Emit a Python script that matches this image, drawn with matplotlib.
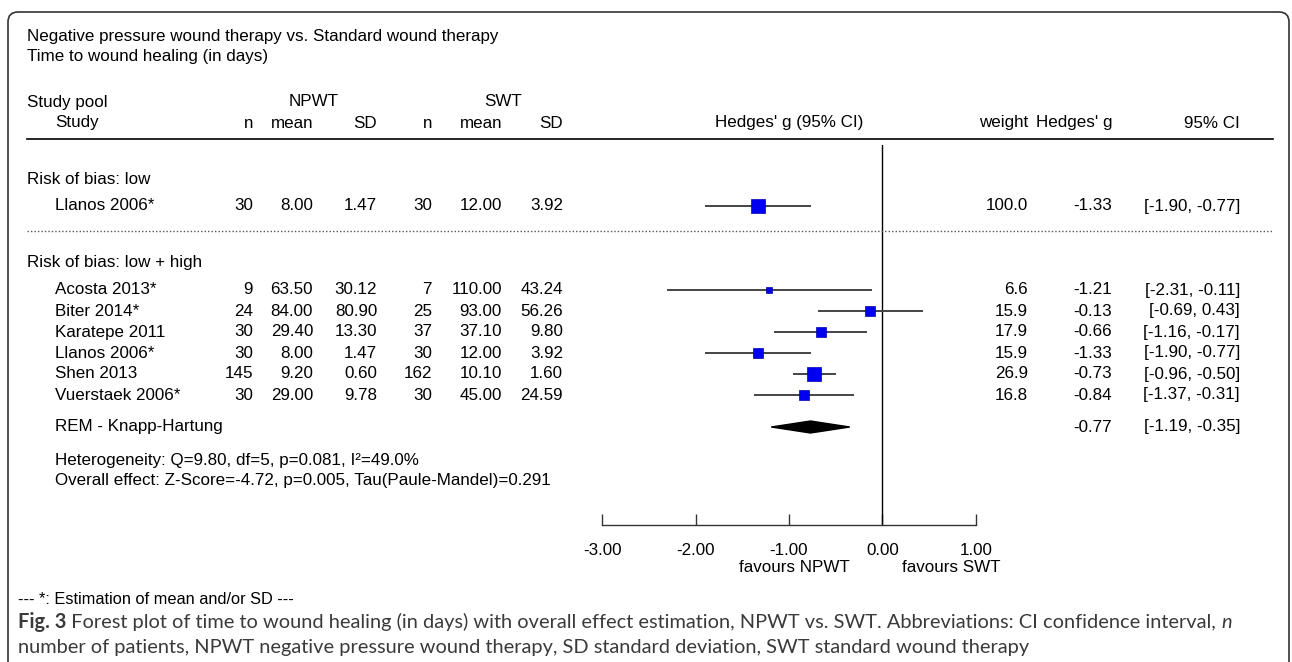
import numpy as np
import matplotlib.pyplot as plt
from matplotlib.patches import FancyBboxPatch
from matplotlib.transforms import blended_transform_factory, IdentityTransform

# ---- data ----
studies = ["Acosta 2013*", "Biter 2014*", "Karatepe 2011", "Llanos 2006*", "Shen 2013", "Vuerstaek 2006*"]
n_npwt = [9, 24, 30, 30, 145, 30]
mean_npwt = [63.50, 84.00, 29.40, 8.00, 9.20, 29.00]
sd_npwt = [30.12, 80.90, 13.30, 1.47, 0.60, 9.78]
n_swt = [7, 25, 37, 30, 162, 30]
mean_swt = [110.00, 93.00, 37.10, 12.00, 10.10, 45.00]
sd_swt = [43.24, 56.26, 9.80, 3.92, 1.60, 24.59]
weights = [6.6, 15.9, 17.9, 15.9, 26.9, 16.8]
hedges_g = [-1.21, -0.13, -0.66, -1.33, -0.73, -0.84]
ci_low = [-2.31, -0.69, -1.16, -1.90, -0.96, -1.37]
ci_high = [-0.11, 0.43, -0.17, -0.77, -0.50, -0.31]

# low risk of bias pool (one study)
low_studies = ["Llanos 2006*"]
low_n_npwt = [30]
low_mean_npwt = [8.00]
low_sd_npwt = [1.47]
low_n_swt = [30]
low_mean_swt = [12.00]
low_sd_swt = [3.92]
low_weights = [100.0]
low_g = [-1.33]
low_ci_low = [-1.90]
low_ci_high = [-0.77]

pooled_g = -0.77
pooled_low = -1.19
pooled_high = -0.35

xticks = [-3, -2, -1, 0, 1]

W, H = 1292, 662
plt.rcParams['font.family'] = ['Liberation Sans', 'DejaVu Sans']
FS = 12.25

fig = plt.figure(figsize=(W / 100, H / 100), dpi=100)
fig.patch.set_facecolor('white')


def fx(x):
    return x / W


def fy(y):
    return 1 - y / H


# forest plot axes: pixel x 602..976, y 145..525 (data y = pixel row from top)
ax = fig.add_axes([fx(602), fy(525), fx(976) - fx(602), (525 - 145) / H])
ax.set_xlim(-3, 1)
ax.set_ylim(525, 145)
ax.patch.set_alpha(0)
for s in ['top', 'left', 'right']:
    ax.spines[s].set_visible(False)
ax.spines['bottom'].set_color('#333333')
ax.spines['bottom'].set_linewidth(1.0)
ax.set_yticks([])
ax.set_xticks(xticks)
ax.set_xticklabels(['%.2f' % t for t in xticks], fontsize=FS)
ax.tick_params(axis='x', direction='in', length=8, width=1.0, color='#333333', pad=13)
ax.axvline(0, color='black', lw=1.0)

tr = blended_transform_factory(fig.transFigure, ax.transData)


def row_text(x, y, s, ha='right', **kw):
    ax.text(fx(x), y, s, transform=tr, ha=ha, va='center', fontsize=FS, clip_on=False, **kw)


def hline(y, **kw):
    ax.plot([fx(27), fx(1273)], [y, y], transform=tr, clip_on=False, **kw)


def box_side(w):
    # marker side in points from study weight
    return min(14.0, 4 + 0.38 * w) / 1.389


def study_row(y, name, a, b, c, d, e, f, w, g, lo, hi):
    row_text(55, y, name, ha='left')
    row_text(253, y, '%d' % a)
    row_text(313, y, '%.2f' % b)
    row_text(377, y, '%.2f' % c)
    row_text(432, y, '%d' % d)
    row_text(502, y, '%.2f' % e)
    row_text(563, y, '%.2f' % f)
    row_text(1028, y, '%.1f' % w)
    row_text(1112, y, '%.2f' % g)
    row_text(1240, y, '[%.2f, %.2f]' % (lo, hi))
    ax.plot([lo, hi], [y, y], color='#444444', lw=1.4, solid_capstyle='butt', zorder=2)
    ax.plot([g], [y], marker='s', ms=box_side(w), color='#0000ee', mec='#0000aa', mew=0.5, zorder=3)


# titles and headers
fig.text(fx(27), fy(36), "Negative pressure wound therapy vs. Standard wound therapy", fontsize=FS, va='center')
fig.text(fx(27), fy(56), "Time to wound healing (in days)", fontsize=FS, va='center')
fig.text(fx(27), fy(102), "Study pool", fontsize=FS, va='center')
fig.text(fx(314), fy(102), "NPWT", fontsize=FS, va='center', ha='center')
fig.text(fx(503), fy(102), "SWT", fontsize=FS, va='center', ha='center')
hdr = [(55, "Study", 'left'), (253, "n", 'right'), (313, "mean", 'right'), (377, "SD", 'right'),
       (432, "n", 'right'), (502, "mean", 'right'), (563, "SD", 'right'),
       (789, "Hedges' g (95% CI)", 'center'), (1028, "weight", 'right'),
       (1112, "Hedges' g", 'right'), (1240, "95% CI", 'right')]
for x, s, ha in hdr:
    fig.text(fx(x), fy(123), s, fontsize=FS, va='center', ha=ha)

hline(139, color='black', lw=1.2)
hline(231, color='#555555', lw=1.0, ls=(0, (1, 1.5)))

# low risk group
row_text(27, 180, "Risk of bias: low", ha='left')
for i in range(len(low_studies)):
    study_row(206, low_studies[i], low_n_npwt[i], low_mean_npwt[i], low_sd_npwt[i],
              low_n_swt[i], low_mean_swt[i], low_sd_swt[i], low_weights[i],
              low_g[i], low_ci_low[i], low_ci_high[i])

# low + high group
row_text(27, 263, "Risk of bias: low + high", ha='left')
for i in range(len(studies)):
    study_row(290 + 21 * i, studies[i], n_npwt[i], mean_npwt[i], sd_npwt[i],
              n_swt[i], mean_swt[i], sd_swt[i], weights[i],
              hedges_g[i], ci_low[i], ci_high[i])

yp = 427
row_text(55, yp, "REM - Knapp-Hartung", ha='left')
row_text(1112, yp, '%.2f' % pooled_g)
row_text(1240, yp, '[%.2f, %.2f]' % (pooled_low, pooled_high))
ax.fill([pooled_low, pooled_g, pooled_high, pooled_g], [yp, yp - 6, yp, yp + 6], color='black', zorder=3)

row_text(55, 460, "Heterogeneity: Q=9.80, df=5, p=0.081, I\u00b2=49.0%", ha='left')
row_text(55, 480, "Overall effect: Z-Score=-4.72, p=0.005, Tau(Paule-Mandel)=0.291", ha='left')

fig.text(fx(850), fy(568), "favours NPWT", fontsize=FS, va='center', ha='right')
fig.text(fx(902), fy(568), "favours SWT", fontsize=FS, va='center', ha='left')

fig.text(fx(18), fy(600), "--- *: Estimation of mean and/or SD ---", fontsize=11.8, va='center')

# caption with mixed styles
cap_font = ['Lato', 'DejaVu Sans']
cap_fs = 14.4
cap_col = '#3a3a3a'
fig.canvas.draw()
renderer = fig.canvas.get_renderer()


def cap_piece(x, y, s, **kw):
    t = fig.text(fx(x), fy(y), s, fontsize=cap_fs, va='center', family=cap_font, color=cap_col, **kw)
    bb = t.get_window_extent(renderer=renderer)
    return x + bb.width


x = cap_piece(18, 622, "Fig. 3", weight='bold')
x = cap_piece(x, 622, " Forest plot of time to wound healing (in days) with overall effect estimation, "
                      "NPWT vs. SWT. Abbreviations: CI confidence interval, ")
cap_piece(x, 622, "n", style='italic')
cap_piece(18, 648, "number of patients, NPWT negative pressure wound therapy, SD standard deviation, "
                   "SWT standard wound therapy")

# rounded frame
frame = FancyBboxPatch((8, -30), 1281, H - 12 + 30, boxstyle="round,pad=0,rounding_size=10",
                       transform=IdentityTransform(), fill=False, ec='#333333', lw=1.2)
fig.add_artist(frame)

fig.savefig('out.png', dpi=100)
